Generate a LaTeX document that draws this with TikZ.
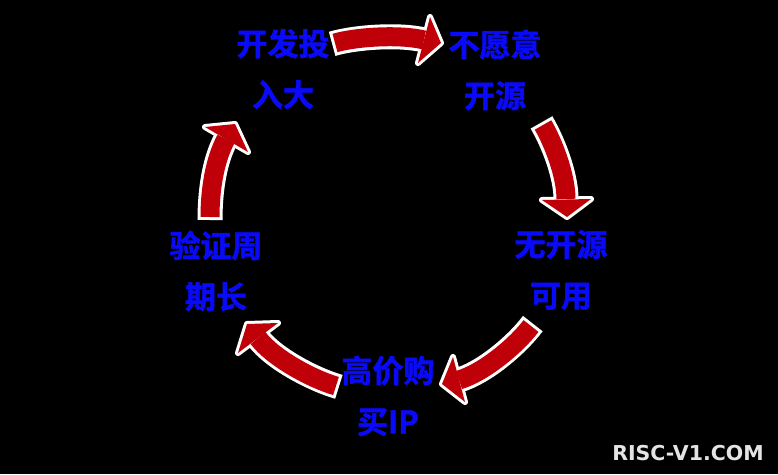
\documentclass[tikz,border=0pt]{standalone}
\usepackage{fontspec}
\newfontfamily\cjkb{Noto Sans CJK SC Bold}[FakeBold=1.6]
\newfontfamily\wmfont{DejaVu Sans}
\definecolor{arrred}{RGB}{192,0,8}
\definecolor{labelblue}{RGB}{10,10,250}
\definecolor{wmgray}{RGB}{228,228,228}
\newcommand\cyclearrow[7]{%
  \draw[white, line width=25pt, shorten <=-3pt] (#1) .. controls (#2) and (#3) .. (#4);
  \draw[white, line width=6pt, line join=round, fill=white] (#5) -- (#6) -- (#7) -- cycle;
  \draw[arrred, line width=19pt] (#1) .. controls (#2) and (#3) .. (#4);
  \fill[arrred] (#5) -- (#6) -- (#7) -- cycle;
}
\tikzset{lbl/.style={text=labelblue, font=\cjkb\fontsize{31}{51}\selectfont, align=center, inner sep=0pt}}
\begin{document}
\begin{tikzpicture}[x=1pt, y=-1pt]
\useasboundingbox (0,0) rectangle (778,474);
\fill[black] (0,0) rectangle (778,474);

% labels
\node[lbl] (n1) at (283,69) {开发投\\入大};
\node[lbl] (n2) at (495,70) {不愿意\\开源};
\node[lbl] (n3) at (561,270) {无开源\\可用};
\node[lbl] (n4) at (388,396) {高价购\\买IP};
\node[lbl] (n5) at (216,271) {验证周\\期长};

% arrow 1 (top)
\coordinate (a1t) at (335,43);  \coordinate (a1c) at (355,37); \coordinate (a1d) at (400,34);
\coordinate (a1b) at (424,40);  \coordinate (a1p) at (441,43); \coordinate (a1l) at (430,17); \coordinate (a1r) at (418,63);
\cyclearrow{a1t}{a1c}{a1d}{a1b}{a1p}{a1l}{a1r}
% arrow 2 (upper right)
\coordinate (a2t) at (543,125); \coordinate (a2c) at (553,142); \coordinate (a2d) at (566,175);
\coordinate (a2b) at (566,199); \coordinate (a2p) at (567,217); \coordinate (a2l) at (542,200); \coordinate (a2r) at (591,199);
\cyclearrow{a2t}{a2c}{a2d}{a2b}{a2p}{a2l}{a2r}
% arrow 3 (lower right)
\coordinate (a3t) at (531,326); \coordinate (a3c) at (516,346); \coordinate (a3d) at (483,373);
\coordinate (a3b) at (459,380); \coordinate (a3p) at (442,384); \coordinate (a3l) at (453,357); \coordinate (a3r) at (465,402);
\cyclearrow{a3t}{a3c}{a3d}{a3b}{a3p}{a3l}{a3r}
% arrow 4 (lower left)
\coordinate (a4t) at (336,386); \coordinate (a4c) at (312,379); \coordinate (a4d) at (273,358);
\coordinate (a4b) at (258,338); \coordinate (a4p) at (247,324); \coordinate (a4l) at (278,323); \coordinate (a4r) at (238,353);
\cyclearrow{a4t}{a4c}{a4d}{a4b}{a4p}{a4l}{a4r}
% arrow 5 (upper left)
\coordinate (a5t) at (210,217); \coordinate (a5c) at (210,192); \coordinate (a5d) at (214,161);
\coordinate (a5b) at (226,139); \coordinate (a5p) at (235,124); \coordinate (a5l) at (205,127); \coordinate (a5r) at (248,152);
\cyclearrow{a5t}{a5c}{a5d}{a5b}{a5p}{a5l}{a5r}

% watermark
\node[text=wmgray, font=\wmfont\bfseries\fontsize{20.5}{20.5}\selectfont, inner sep=0pt] (wm) at (688,453) {RISC-V1.COM};
\end{tikzpicture}
\end{document}
